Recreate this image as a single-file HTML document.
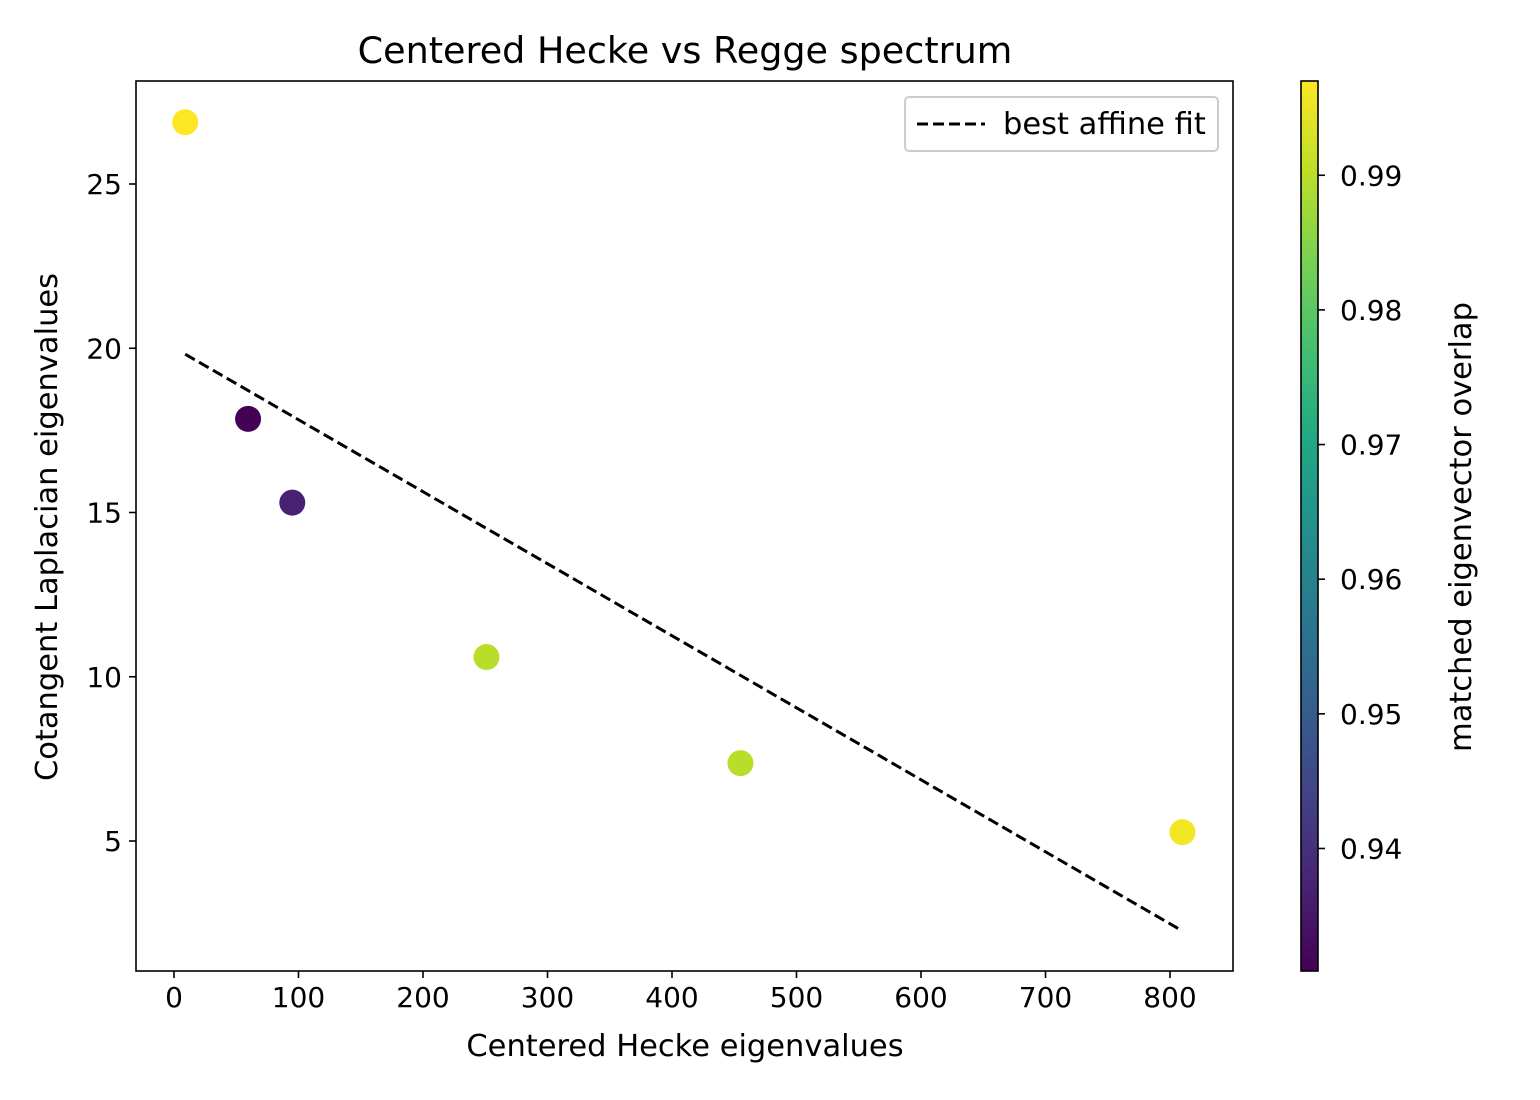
<!DOCTYPE html>
<html><head><meta charset="utf-8"><style>body{margin:0;background:#fff}svg{display:block;font-family:"DejaVu Sans","Liberation Sans",sans-serif}</style></head>
<body>
<svg id="chart" width="1540" height="1100">
<defs><linearGradient id="vir" x1="0" y1="1" x2="0" y2="0">
<stop offset="0" stop-color="#440154"/><stop offset="0.1" stop-color="#482475"/><stop offset="0.2" stop-color="#414487"/><stop offset="0.3" stop-color="#355f8d"/><stop offset="0.4" stop-color="#2a788e"/><stop offset="0.5" stop-color="#21918c"/><stop offset="0.6" stop-color="#22a884"/><stop offset="0.7" stop-color="#44bf70"/><stop offset="0.8" stop-color="#7ad151"/><stop offset="0.9" stop-color="#bddf26"/><stop offset="1" stop-color="#fde725"/></linearGradient></defs>
</svg>
<script>
const xs=[9,59.5,95,251,455,810];
const ys=[26.88,17.85,15.3,10.6,7.37,5.27];
const overlap=[0.997,0.931,0.937,0.990,0.990,0.996];
const fitX=[9,810];const fitY=[19.82,2.26];
const xTicks=[0,100,200,300,400,500,600,700,800];
const yTicks=[5,10,15,20,25];
const cTicks=[0.94,0.95,0.96,0.97,0.98,0.99];
const cMin=0.9309,cMax=0.997;
const NS="http://www.w3.org/2000/svg",svg=document.getElementById('chart');
const L=136,R=1233,T=81,B=971;
const px=x=>174+x*1.245, py=y=>841-(y-5)*32.85;
const cy=v=>971-(v-cMin)/(cMax-cMin)*890;
function mk(t,a,txt){const e=document.createElementNS(NS,t);for(const k in a)e.setAttribute(k,a[k]);if(txt!=null)e.textContent=txt;svg.appendChild(e);return e;}
const stops=[[0,[68,1,84]],[0.1,[72,36,117]],[0.2,[65,68,135]],[0.3,[53,95,141]],[0.4,[42,120,142]],[0.5,[33,145,140]],[0.6,[34,168,132]],[0.7,[68,191,112]],[0.8,[122,209,81]],[0.9,[189,223,38]],[1,[253,231,37]]];
function vir(t){t=Math.max(0,Math.min(1,t));for(let i=1;i<stops.length;i++){if(t<=stops[i][0]){const a=stops[i-1],b=stops[i],f=(t-a[0])/(b[0]-a[0]);return 'rgb('+a[1].map((c,j)=>Math.round(c+(b[1][j]-c)*f)).join(',')+')';}}}
let e;
e=mk('text',{x:685,y:63,'font-size':36.5,'text-anchor':'middle'},'Centered Hecke vs Regge spectrum');

e=mk('line',{x1:px(fitX[0]),y1:py(fitY[0]),x2:px(fitX[1]),y2:py(fitY[1]),stroke:'#000','stroke-width':3,'stroke-dasharray':'11,5'});

xs.forEach((x,i)=>{const c=mk('circle',{cx:px(x),cy:py(ys[i]),r:13,fill:vir((overlap[i]-cMin)/(cMax-cMin))});
});
e=mk('rect',{x:L,y:T,width:R-L,height:B-T,fill:'none',stroke:'#000','stroke-width':1.6});

xTicks.forEach(v=>{mk('line',{x1:px(v),x2:px(v),y1:B,y2:B+7,stroke:'#000','stroke-width':1.6});
const t=mk('text',{x:px(v),y:B+36,'font-size':28,'text-anchor':'middle'},v);});
yTicks.forEach(v=>{mk('line',{x1:L-7,x2:L,y1:py(v),y2:py(v),stroke:'#000','stroke-width':1.6});
const t=mk('text',{x:L-14,y:py(v)+10,'font-size':28,'text-anchor':'end'},v);});
e=mk('text',{x:685,y:1056,'font-size':30.5,'text-anchor':'middle'},'Centered Hecke eigenvalues');

e=mk('text',{x:0,y:0,'font-size':30.5,'text-anchor':'middle',transform:'translate(57,527) rotate(-90)'},'Cotangent Laplacian eigenvalues');

e=mk('rect',{x:905,y:97,width:313,height:54,rx:4,fill:'#fff',stroke:'#ccc','stroke-width':2});

mk('line',{x1:917,x2:985,y1:124,y2:124,stroke:'#000','stroke-width':3,'stroke-dasharray':'11,5'});
e=mk('text',{x:1003,y:134,'font-size':30.5},'best affine fit');

e=mk('rect',{x:1301,y:T,width:17,height:B-T,fill:'url(#vir)',stroke:'#000','stroke-width':1.6});

cTicks.forEach(v=>{mk('line',{x1:1318,x2:1325,y1:cy(v),y2:cy(v),stroke:'#000','stroke-width':1.6});
const t=mk('text',{x:1340,y:cy(v)+10,'font-size':28},v.toFixed(2));});
e=mk('text',{x:0,y:0,'font-size':30.5,'text-anchor':'middle',transform:'translate(1471,527) rotate(-90)'},'matched eigenvector overlap');

</script>
</body></html>
